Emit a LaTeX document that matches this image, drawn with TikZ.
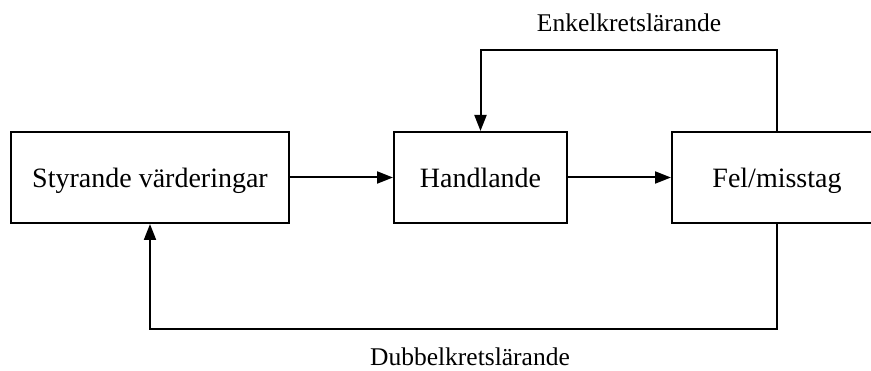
\documentclass[tikz,border=0pt]{standalone}
\usepackage{fontspec}
\setmainfont{Liberation Serif}
\usetikzlibrary{arrows.meta}

\tikzset{
  box/.style={draw, line width=2pt, minimum height=91pt, inner sep=0pt,
    font=\fontsize{28}{34}\selectfont, text height=21pt, text depth=0pt},
  arr/.style={line width=2pt, -{Triangle[length=16pt,width=12pt]}},
  loopname/.style={anchor=base, inner sep=0pt, font=\fontsize{25.5}{30}\selectfont}
}

\begin{document}
\begin{tikzpicture}[x=1pt, y=-1pt]
  \useasboundingbox (0,0) rectangle (871,371);

  % the three stages of the loop
  \node[box, minimum width=278pt] (styr) at (150,177.5) {Styrande värderingar};
  \node[box, minimum width=173pt] (hand) at (480.5,177.5) {Handlande};
  \node[box, minimum width=210pt] (fel)  at (777,177.5) {Fel/misstag};

  % forward flow
  \draw[arr] (styr.east) -- (hand.west);
  \draw[arr] (hand.east) -- (fel.west);

  % single-loop feedback
  \coordinate (topline) at (0,50);
  \draw[arr] (fel.north) -- (fel.north |- topline) -| (hand.north);
  \node[loopname] (enkel) at (629,32) {Enkelkretslärande};

  % double-loop feedback
  \coordinate (botline) at (0,329);
  \draw[arr] (fel.south) -- (fel.south |- botline) -| (styr.south);
  \node[loopname] (dubbel) at (470,366) {Dubbelkretslärande};
\end{tikzpicture}
\end{document}
